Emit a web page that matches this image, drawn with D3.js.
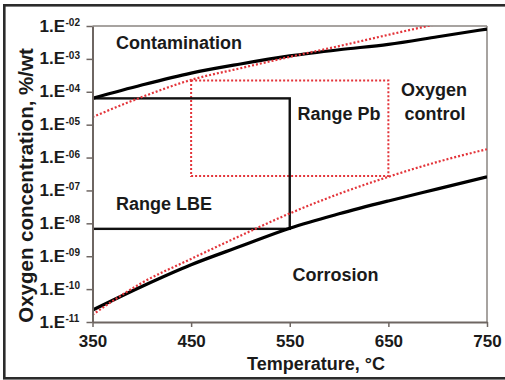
<!DOCTYPE html>
<html><head><meta charset="utf-8">
<script src="https://cdn.jsdelivr.net/npm/d3@7"></script>
<style>
html,body{margin:0;padding:0;background:#fff;}
svg{display:block;font-family:"Liberation Sans",Arial,sans-serif;font-weight:bold;}
</style></head>
<body><svg id="c" width="505" height="380"></svg>
<script>
const temps = [350, 400, 450, 500, 550, 600, 650, 700, 750];
const contaminationLine = [6.3e-5, 1.6e-4, 3.7e-4, 7.0e-4, 1.23e-3, 1.9e-3, 2.75e-3, 4.7e-3, 8.1e-3];
const redUpperLine = [1.7e-5, 6.9e-5, 2.3e-4, 5.2e-4, 1.15e-3, 2.45e-3, 5.4e-3, 1.17e-2];
const corrosionLine = [2.3e-11, 1.2e-10, 5.5e-10, 2.0e-9, 7.1e-9, 1.95e-8, 4.8e-8, 1.12e-7, 2.6e-7];
const redLowerLine = [1.66e-11, 1.55e-10, 8.3e-10, 4.2e-9, 2.0e-8, 7.9e-8, 2.6e-7, 7.4e-7, 1.8e-6];
const rangeLBE = {t: [350, 550], c: [6.8e-9, 6.3e-5]};
const rangePb = {t: [450, 650], c: [2.75e-7, 2.2e-4]};
const xTicks = [350, 450, 550, 650, 750];
const yExponents = ["-02","-03","-04","-05","-06","-07","-08","-09","-10","-11"];
const yTickValues = [1e-2,1e-3,1e-4,1e-5,1e-6,1e-7,1e-8,1e-9,1e-10,1e-11];

const svg = d3.select("#c");
const L = 92.5, R = 487, T = 26, B = 322;
const x = d3.scaleLinear().domain([350, 750]).range([L, R]);
const y = d3.scaleLog().domain([1e-11, 1e-2]).range([B, T]);

// outer frame
svg.append("rect").attr("x", 4.3).attr("y", 5.3).attr("width", 520).attr("height", 373)
  .attr("fill", "none").attr("stroke", "#2b2b2b").attr("stroke-width", 2.6);

// plot frame top/right
svg.append("line").attr("x1", L).attr("x2", R).attr("y1", T).attr("y2", T).attr("stroke", "#8a8480").attr("stroke-width", 1.5);
svg.append("line").attr("x1", R).attr("x2", R).attr("y1", T).attr("y2", B).attr("stroke", "#8a8480").attr("stroke-width", 1.5);

svg.append("defs").append("clipPath").attr("id", "clip").append("rect")
  .attr("x", L).attr("y", T).attr("width", R - L).attr("height", B - T);

const g = svg.append("g").attr("clip-path", "url(#clip)");
const line = d3.line().x(d => x(d[0])).y(d => y(d[1])).curve(d3.curveMonotoneX);
const pts = arr => arr.map((v, i) => [temps[i], v]);

// ranges
g.append("rect").attr("x", x(rangePb.t[0])).attr("y", y(rangePb.c[1]))
  .attr("width", x(rangePb.t[1]) - x(rangePb.t[0])).attr("height", y(rangePb.c[0]) - y(rangePb.c[1]))
  .attr("fill", "none").attr("stroke", "#e3343a").attr("stroke-width", 2).attr("stroke-dasharray", "2,2");
g.append("rect").attr("x", x(rangeLBE.t[0])).attr("y", y(rangeLBE.c[1]))
  .attr("width", x(rangeLBE.t[1]) - x(rangeLBE.t[0])).attr("height", y(rangeLBE.c[0]) - y(rangeLBE.c[1]))
  .attr("fill", "none").attr("stroke", "#111").attr("stroke-width", 2.4);

// curves
g.append("path").datum(pts(contaminationLine)).attr("d", line).attr("fill", "none").attr("stroke", "#000").attr("stroke-width", 3.2);
g.append("path").datum(pts(corrosionLine)).attr("d", line).attr("fill", "none").attr("stroke", "#000").attr("stroke-width", 3.2);
g.append("path").datum(pts(redUpperLine)).attr("d", line).attr("fill", "none").attr("stroke", "#e3343a").attr("stroke-width", 2.2).attr("stroke-dasharray", "2,2");
g.append("path").datum(pts(redLowerLine)).attr("d", line).attr("fill", "none").attr("stroke", "#e3343a").attr("stroke-width", 2.2).attr("stroke-dasharray", "2,2");

// axes
const axCol = "#6e6662";
const xa = svg.append("g").attr("transform", `translate(0,${B})`)
  .call(d3.axisBottom(x).tickValues(xTicks).tickSize(5).tickSizeOuter(0).tickFormat(d3.format("d")));
xa.select(".domain").attr("stroke", axCol).attr("stroke-width", 2);
xa.selectAll(".tick line").attr("stroke", axCol).attr("stroke-width", 1.5);
xa.selectAll(".tick text").attr("fill", "#1a1a1a").attr("font-size", 17).attr("font-family", "Liberation Sans, Arial, sans-serif")
  .attr("font-weight", "bold").attr("dy", null).attr("y", 24.5);

const ya = svg.append("g").attr("transform", `translate(${L},0)`)
  .call(d3.axisLeft(y).tickValues(yTickValues).tickSize(6).tickSizeOuter(0).tickFormat(""));
ya.select(".domain").attr("stroke", axCol).attr("stroke-width", 2);
ya.selectAll(".tick line").attr("stroke", axCol).attr("stroke-width", 1.5);

yTickValues.forEach((v, i) => {
  const t = svg.append("text").attr("x", 65).attr("y", y(v) + 5.5).attr("text-anchor", "end")
    .attr("font-size", 17).attr("fill", "#1a1a1a").text("1.E");
  svg.append("text").attr("x", 65.5).attr("y", y(v)).attr("font-size", 10).attr("fill", "#1a1a1a").text(yExponents[i]);
});

// axis titles
svg.append("text").attr("transform", "translate(33,185.5) rotate(-90)").attr("text-anchor", "middle")
  .attr("font-size", 20.5).attr("fill", "#1a1a1a").text("Oxygen concentration, %/wt");
svg.append("text").attr("x", 316).attr("y", 370).attr("text-anchor", "middle")
  .attr("font-size", 18).attr("fill", "#1a1a1a").text("Temperature, °C");

// region labels
const lab = (tx, ty, s, anchor) => svg.append("text").attr("x", tx).attr("y", ty)
  .attr("text-anchor", anchor || "start").attr("font-size", 18).attr("fill", "#1a1a1a").text(s);
lab(116, 48.5, "Contamination");
lab(297.5, 120, "Range Pb");
lab(434, 96, "Oxygen", "middle");
lab(435, 120, "control", "middle");
lab(116, 209.5, "Range LBE");
lab(292.5, 281, "Corrosion");
</script></body></html>
